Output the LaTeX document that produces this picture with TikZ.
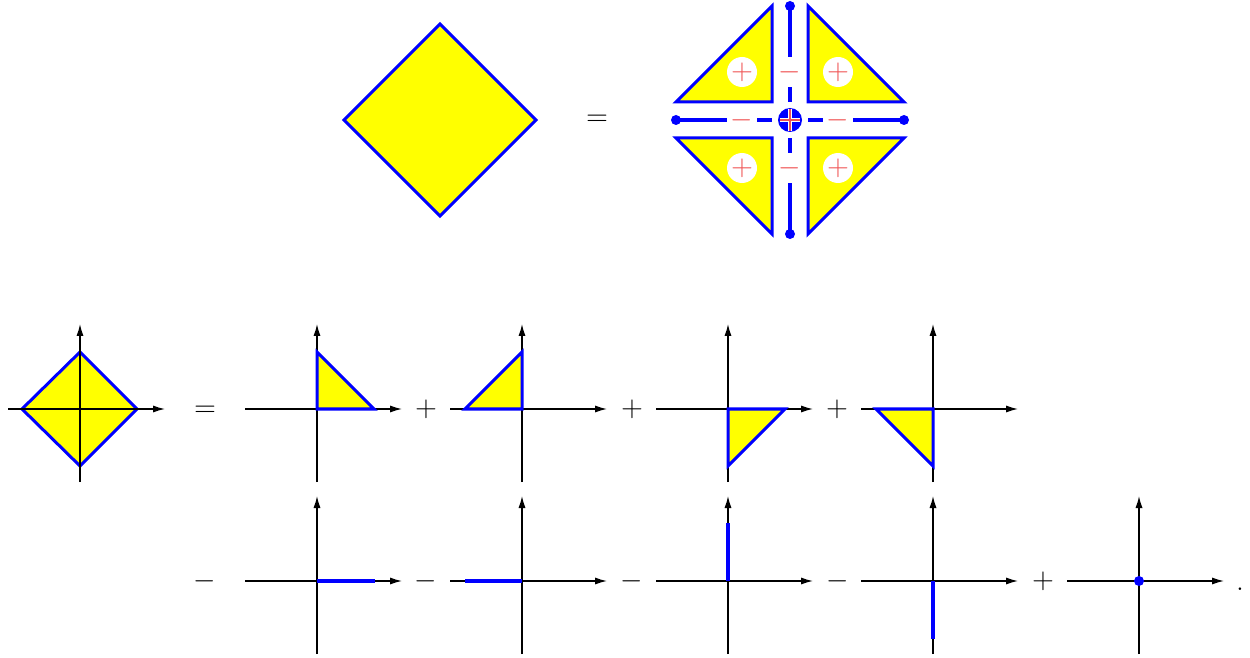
\documentclass[tikz,border=0pt]{standalone}
\usetikzlibrary{arrows.meta}
\definecolor{myblue}{RGB}{0,0,255}
\definecolor{myyellow}{RGB}{255,255,0}
\definecolor{myred}{RGB}{240,85,85}
\begin{document}
\begin{tikzpicture}[x=0.5pt,y=-0.5pt,
  axis/.style={line width=0.75pt, -{Latex[length=6pt,width=3.6pt]}},
  region/.style={fill=myyellow, draw=myblue, line width=1.5pt},
  seg/.style={draw=myblue, line width=2pt},
  op/.style={anchor=base, font=\fontsize{13.5}{16}\selectfont, inner sep=0pt},
  gapnode/.style={fill=white, text=myred, minimum width=15pt, minimum height=15pt, inner sep=0pt, font=\fontsize{13.5}{16}\selectfont},
  pluscirc/.style={circle, fill=white, text=myred, minimum size=15pt, inner sep=0pt, font=\fontsize{13.5}{16}\selectfont},
  axes/.pic={\draw[axis] (-72,0) -- (85,0); \draw[axis] (0,73) -- (0,-85);},
]
\useasboundingbox (0,0) rectangle (1250,658);

% ---------- top ----------
\draw[region] (440,24) -- (536,120) -- (440,216) -- (344,120) -- cycle;
\node[op] (eqtop) at (597,126) {$=$};

\draw[region] (772,6) -- (772,102) -- (676,102) -- cycle;
\draw[region] (808,6) -- (808,102) -- (904,102) -- cycle;
\draw[region] (772,234) -- (772,138) -- (676,138) -- cycle;
\draw[region] (808,234) -- (808,138) -- (904,138) -- cycle;

\coordinate (T) at (790,6);
\coordinate (B) at (790,234);
\coordinate (L) at (676,120);
\coordinate (R) at (904,120);
\coordinate (C) at (790,120);
\draw[seg] (T) -- (B);
\draw[seg] (L) -- (R);
\foreach \p in {T,B,L,R} \fill[myblue] (\p) circle (5);

\node[gapnode] (mt) at (790,72) {$-$};
\node[gapnode] (mb) at (790,168) {$-$};
\node[gapnode] (ml) at (742,120) {$-$};
\node[gapnode] (mr) at (838,120) {$-$};

\node[pluscirc] (p1) at (742,72) {$+$};
\node[pluscirc] (p2) at (838,72) {$+$};
\node[pluscirc] (p3) at (742,168) {$+$};
\node[pluscirc] (p4) at (838,168) {$+$};

\fill[white] (C) circle (18);
\fill[myblue] (C) circle (12);
\draw[white, line width=2pt] (780,120) -- (800,120) (790,109) -- (790,131);
\draw[myred, line width=0.6pt] (780,120) -- (800,120) (790,109) -- (790,131);

% ---------- bottom row 1 ----------
\draw[region] (80,352) -- (137,409) -- (80,466) -- (22,409) -- cycle;
\pic at (80,409) {axes};
\node[op] (e1) at (205,416) {$=$};

\pic at (317,409) {axes};
\draw[region] (317,409) -- (374,409) -- (317,352) -- cycle;
\node[op] (a1) at (426,416) {$+$};

\pic at (522,409) {axes};
\draw[region] (522,409) -- (465,409) -- (522,352) -- cycle;
\node[op] (a2) at (632,416) {$+$};

\pic at (728,409) {axes};
\draw[region] (728,409) -- (785,409) -- (728,466) -- cycle;
\node[op] (a3) at (837,416) {$+$};

\pic at (933,409) {axes};
\draw[region] (933,409) -- (876,409) -- (933,466) -- cycle;

% ---------- bottom row 2 ----------
\node[op] (s0) at (205,588) {$-$};

\pic at (317,581) {axes};
\draw[seg] (317,581) -- (375,581);
\node[op] (s1) at (426,588) {$-$};

\pic at (522,581) {axes};
\draw[seg] (465,581) -- (522,581);
\node[op] (s2) at (632,588) {$-$};

\pic at (728,581) {axes};
\draw[seg] (728,581) -- (728,523);
\node[op] (s3) at (838,588) {$-$};

\pic at (933,581) {axes};
\draw[seg] (933,581) -- (933,639);
\node[op] (s4) at (1043,588) {$+$};

\pic at (1139,581) {axes};
\fill[myblue] (1139,581) circle (5);

\node[op] (dot) at (1240,590) {.};
\end{tikzpicture}
\end{document}
